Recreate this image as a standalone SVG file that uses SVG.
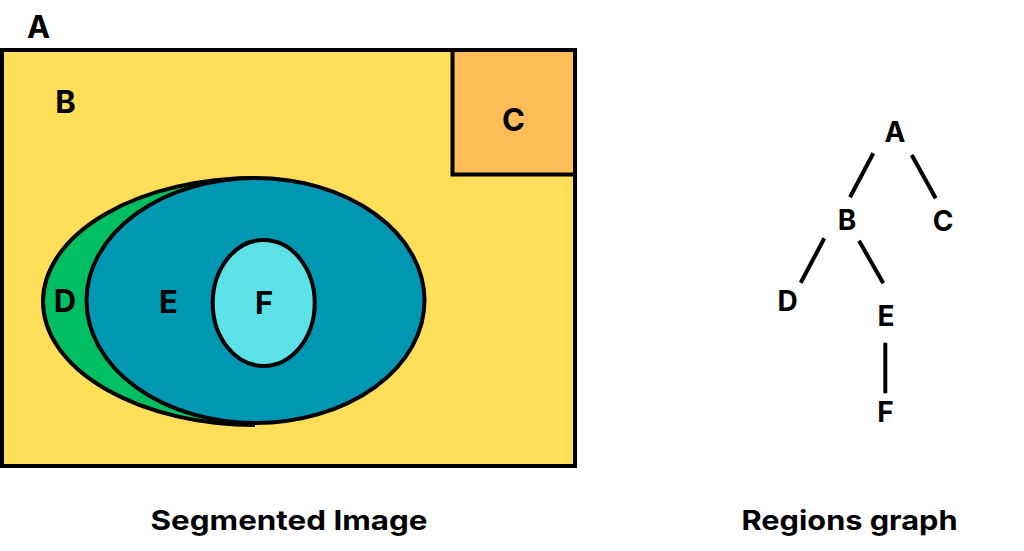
<svg xmlns="http://www.w3.org/2000/svg" width="1024" height="551" viewBox="0 0 1024 551">
<style>
.lbl{font-family:Inter,"Liberation Sans",sans-serif;font-weight:700;fill:#000;text-anchor:middle}
.big{font-size:31px}
.sm{font-size:28px}
.title{font-family:Inter,"Open Sans","Liberation Sans",sans-serif;font-weight:700;font-size:27px;fill:#000}
.shape{stroke:#000;stroke-width:4}
.edge{stroke:#000;stroke-width:4;stroke-linecap:butt}
</style>
<rect width="1024" height="551" fill="#fff"/>
<g id="image">
  <g id="regionA">
    <text class="lbl big" x="38.5" y="38">A</text>
  </g>
  <g id="regionB">
    <rect class="shape" x="2" y="50" width="573" height="416" fill="#FFDE59"/>
    <text class="lbl big" x="65.5" y="113">B</text>
  </g>
  <g id="regionC">
    <rect class="shape" x="452.5" y="50" width="122.5" height="124.5" fill="#FFBD59"/>
    <text class="lbl big" x="513.5" y="131">C</text>
  </g>
  <g id="regionD">
    <path d="M255 178 A212 123.5 0 0 0 255 425 Z" fill="#00BF63"/>
    <path d="M255 178 A212 123.5 0 0 0 255 425" fill="none" stroke="#000" stroke-width="4"/>
  </g>
  <g id="regionE">
    <ellipse class="shape" cx="255.5" cy="300.5" rx="169" ry="122.5" fill="#0097B2"/>
    <text class="lbl big" x="168.5" y="312.5">E</text>
  </g>
  <g id="regionDlabel">
    <text class="lbl big" x="65" y="312">D</text>
  </g>
  <g id="regionF">
    <ellipse class="shape" cx="263.7" cy="303" rx="51" ry="63" fill="#5CE1E6"/>
    <text class="lbl big" x="264" y="314">F</text>
  </g>
</g>
<g id="connectors">
  <line class="edge" x1="873.3" y1="153.3" x2="850" y2="197.3"/>
  <line class="edge" x1="911.7" y1="155" x2="935.7" y2="198.3"/>
  <line class="edge" x1="824.3" y1="238.3" x2="800.7" y2="282.7"/>
  <line class="edge" x1="859" y1="240.7" x2="883.3" y2="283.3"/>
  <line class="edge" x1="885.3" y1="342.7" x2="885.3" y2="393.3"/>
</g>
<g id="nodeA"><text class="lbl sm" x="895" y="142">A</text></g>
<g id="nodeB"><text class="lbl sm" x="847" y="230">B</text></g>
<g id="nodeC"><text class="lbl sm" x="943" y="230.5">C</text></g>
<g id="nodeD"><text class="lbl sm" x="787.5" y="311">D</text></g>
<g id="nodeE"><text class="lbl sm" x="886" y="326">E</text></g>
<g id="nodeF"><text class="lbl sm" x="885.5" y="422">F</text></g>
<g id="titles">
  <text class="title" x="150.5" y="529.5" textLength="277" lengthAdjust="spacingAndGlyphs">Segmented Image</text>
  <text class="title" x="741.5" y="529.5" textLength="216" lengthAdjust="spacingAndGlyphs">Regions graph</text>
</g>
</svg>
